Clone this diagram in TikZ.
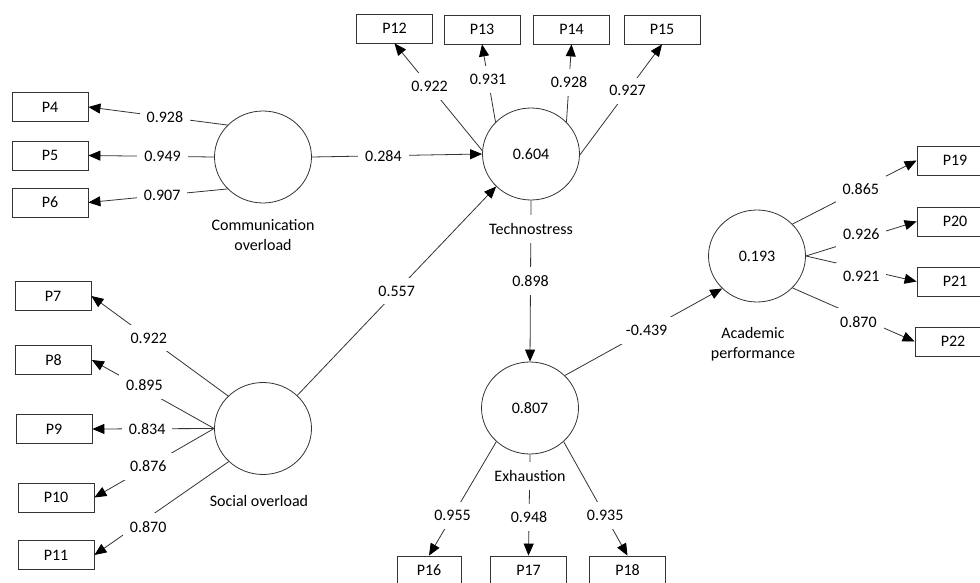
\documentclass[tikz,border=0pt]{standalone}
\usepackage{fontspec}
\setmainfont{Carlito}
\usetikzlibrary{shapes.geometric,arrows.meta}
\begin{document}
\begin{tikzpicture}[x=1pt,y=-1pt,
  every node/.style={font=\fontsize{16}{20}\selectfont},
  ind/.style={draw=black!80,line width=0.8pt,minimum width=76pt,minimum height=29pt,inner sep=0pt},
  lat/.style={ellipse,draw=black!80,line width=0.8pt,minimum width=97pt,minimum height=92pt,inner sep=0pt},
  conn/.style={draw=black!80,line width=0.8pt,-{Triangle[length=12pt,width=10pt,color=black]}},
  lbl/.style={fill=white,inner xsep=7pt,inner ysep=8pt},
  captxt/.style={align=center,inner sep=1pt}]
\useasboundingbox (0,0) rectangle (980,583);
% indicator boxes
\node[ind] (p4) at (50,107) {P4};
\node[ind] (p5) at (50,155.5) {P5};
\node[ind] (p6) at (50,202.5) {P6};
\node[ind] (p7) at (53,296) {P7};
\node[ind] (p8) at (53.5,360) {P8};
\node[ind] (p9) at (54,429) {P9};
\node[ind] (p10) at (56,497.5) {P10};
\node[ind] (p11) at (56,555) {P11};
\node[ind] (p12) at (394.5,28.5) {P12};
\node[ind] (p13) at (482,29.5) {P13};
\node[ind] (p14) at (571.5,29.5) {P14};
\node[ind] (p15) at (662,29.5) {P15};
\node[ind,minimum width=64pt] (p16) at (429,570.5) {P16};
\node[ind] (p17) at (528.5,570.5) {P17};
\node[ind] (p18) at (627.5,570.5) {P18};
\node[ind] (p19) at (955,160.5) {P19};
\node[ind] (p20) at (955,221.5) {P20};
\node[ind] (p21) at (955,281.5) {P21};
\node[ind] (p22) at (953,341.5) {P22};
% latent variables
\node[lat] (co) at (263,157) {};
\node[lat] (ts) at (531,154) {0.604};
\node[lat] (so) at (263,428.5) {};
\node[lat] (ex) at (530,408) {0.807};
\node[lat] (ap) at (757,256) {0.193};
% connectors
\draw[conn] (co.138) -- node[lbl,pos=0.45]{0.928} (p4.east);
\draw[conn] (co.180) -- node[lbl,pos=0.41]{0.949} (p5.east);
\draw[conn] (co.222) -- node[lbl,pos=0.47]{0.907} (p6.east);
\draw[conn] (co.0) -- node[lbl,pos=0.42]{0.284} (ts.180);
\draw[conn] (ts.176) -- node[lbl,pos=0.6]{0.922} (p12.south);
\draw[conn] (ts.138) -- node[lbl,pos=0.55]{0.931} (p13.south);
\draw[conn] (ts.42) -- node[lbl,pos=0.51]{0.928} (p14.south);
\draw[conn] (ts.-1) -- node[lbl,pos=0.58]{0.927} (p15.south);
\draw[conn] (so.44) -- node[lbl,pos=0.5]{0.557} (ts.223);
\draw[conn] (ts.south) -- node[lbl,pos=0.5]{0.898} (ex.north);
\draw[conn] (ex.43) -- node[lbl,pos=0.52]{-0.439} (ap.223);
\draw[conn] (ex.225) -- node[lbl,pos=0.65]{0.955} (p16.north);
\draw[conn] (ex.south) -- node[lbl,pos=0.62]{0.948} (p17.north);
\draw[conn] (ex.315) -- node[lbl,pos=0.65]{0.935} (p18.north);
\draw[conn] (ap.42) -- node[lbl,pos=0.55]{0.865} (p19.west);
\draw[conn] (ap.0) -- node[lbl,pos=0.5,yshift=5pt]{0.926} (p20.west);
\draw[conn] (ap.0) -- node[lbl,pos=0.5,yshift=-8pt]{0.921} (p21.west);
\draw[conn] (ap.318) -- node[lbl,pos=0.54,yshift=-5pt]{0.870} (p22.west);
\draw[conn] (so.137) -- node[lbl,pos=0.58]{0.922} (p7.east);
\draw[conn] (so.180) -- node[lbl,pos=0.57,yshift=4pt]{0.895} (p8.east);
\draw[conn] (so.180) -- node[lbl,pos=0.55]{0.834} (p9.east);
\draw[conn] (so.180) -- node[lbl,pos=0.55]{0.876} (p10.east);
\draw[conn] (so.224) -- node[lbl,pos=0.6,yshift=-9pt]{0.870} (p11.east);
% captions
\node[captxt] (coname) at (263,235) {Communication\\overload};
\node[captxt,fill=white,inner xsep=4pt,inner ysep=8pt] (tsname) at (531,229) {Technostress};
\node[captxt] (soname) at (259,501) {Social overload};
\node[captxt,fill=white,inner xsep=4pt,inner ysep=8pt] (exname) at (530,476) {Exhaustion};
\node[captxt] (apname) at (753,344) {Academic\\performance};
\end{tikzpicture}
\end{document}
